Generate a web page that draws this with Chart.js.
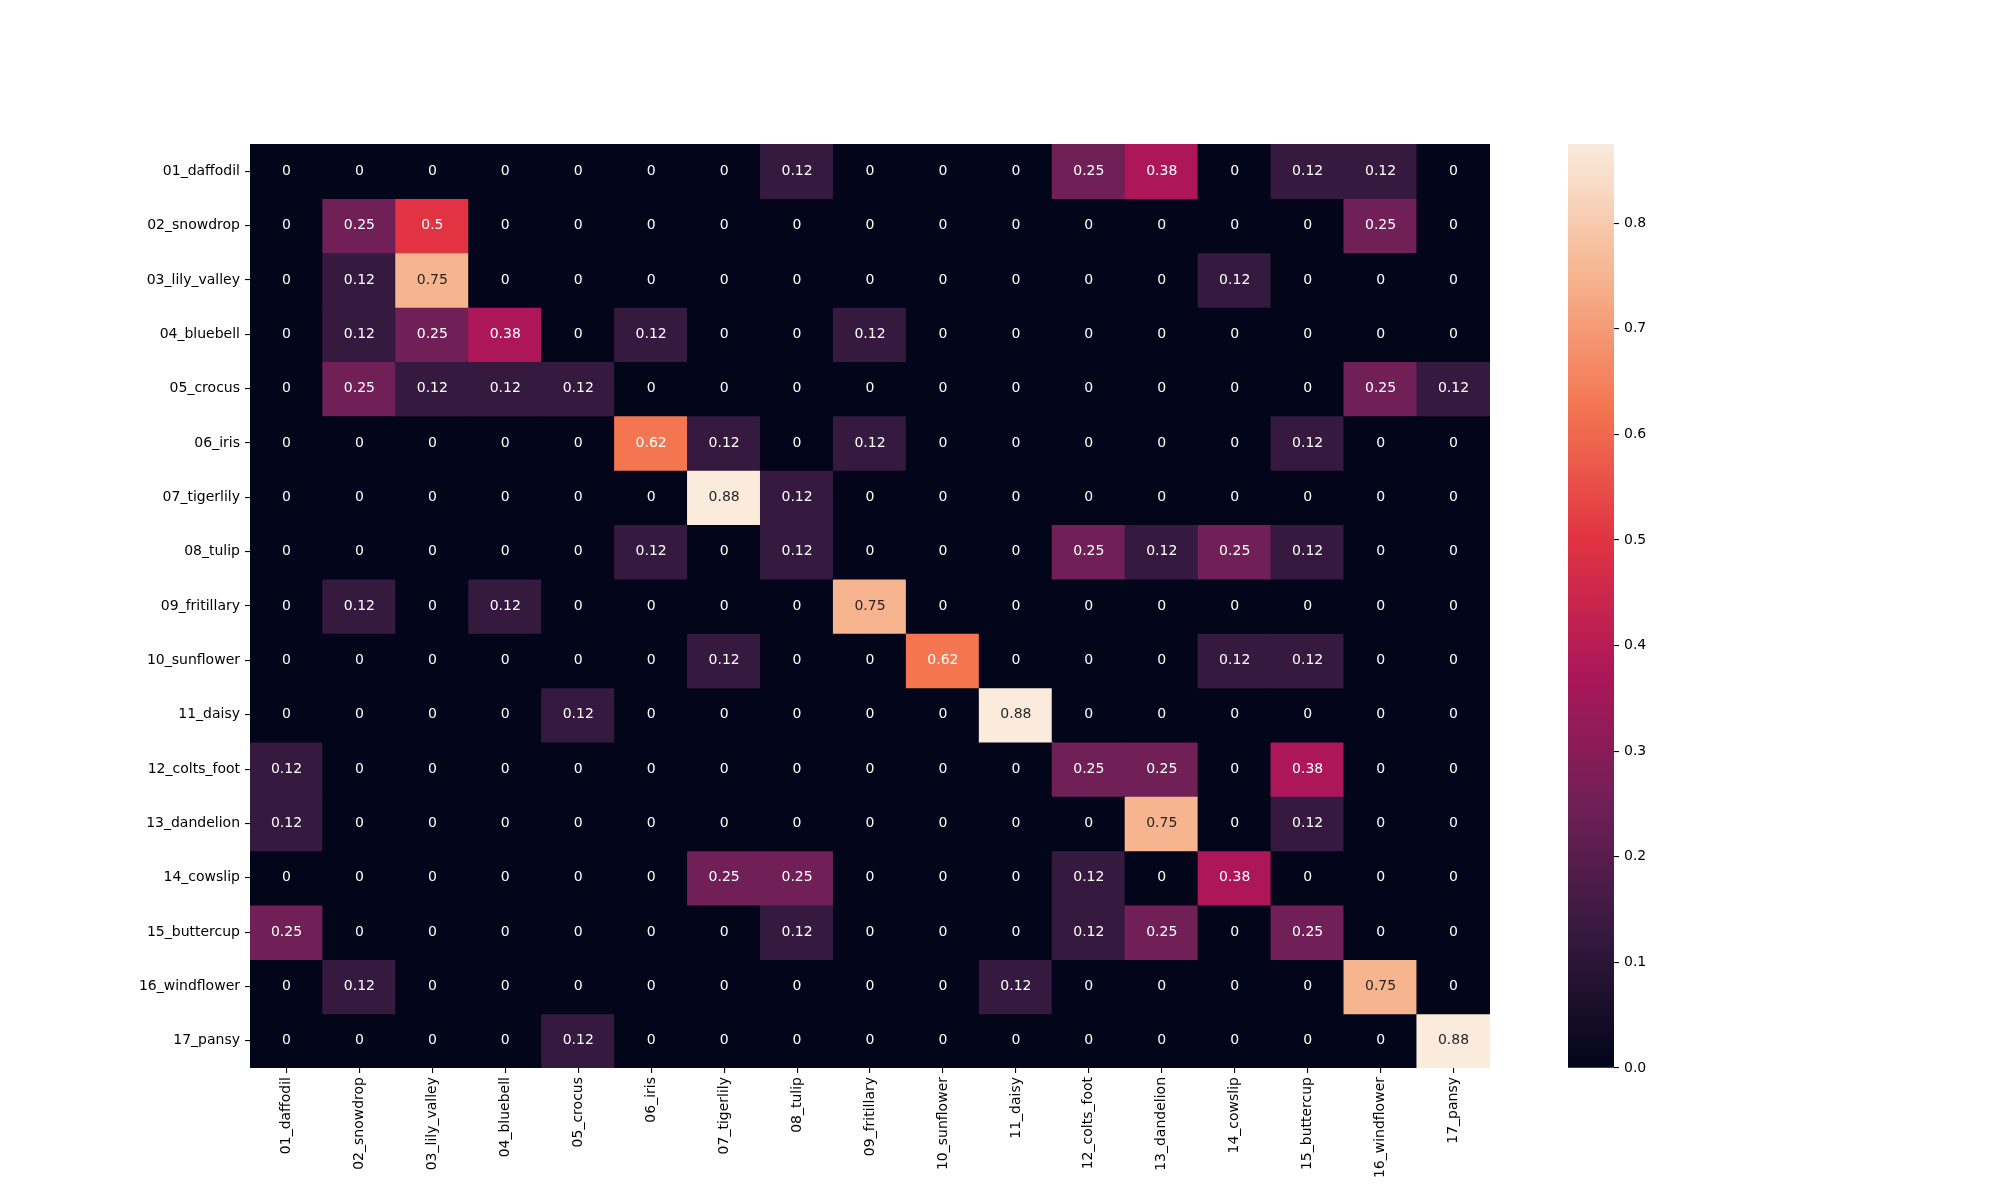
<!DOCTYPE html>
<html><head><meta charset="utf-8">
<script src="https://cdn.jsdelivr.net/npm/chart.js@4.4.0/dist/chart.umd.min.js"></script>
<style>
html,body{margin:0;padding:0;background:#fff;}
#wrap{position:relative;width:2000px;height:1200px;}
canvas{position:absolute;left:0;top:0;}
</style>
</head><body>
<div id="wrap"><canvas id="hm" width="2000" height="1200"></canvas><canvas id="cb" width="2000" height="1200"></canvas></div>
<script>
const classLabels = ["01_daffodil","02_snowdrop","03_lily_valley","04_bluebell","05_crocus","06_iris","07_tigerlily","08_tulip","09_fritillary","10_sunflower","11_daisy","12_colts_foot","13_dandelion","14_cowslip","15_buttercup","16_windflower","17_pansy"];
const row01 = [0,0,0,0,0,0,0,0.125,0,0,0,0.25,0.375,0,0.125,0.125,0];
const row02 = [0,0.25,0.5,0,0,0,0,0,0,0,0,0,0,0,0,0.25,0];
const row03 = [0,0.125,0.75,0,0,0,0,0,0,0,0,0,0,0.125,0,0,0];
const row04 = [0,0.125,0.25,0.375,0,0.125,0,0,0.125,0,0,0,0,0,0,0,0];
const row05 = [0,0.25,0.125,0.125,0.125,0,0,0,0,0,0,0,0,0,0,0.25,0.125];
const row06 = [0,0,0,0,0,0.625,0.125,0,0.125,0,0,0,0,0,0.125,0,0];
const row07 = [0,0,0,0,0,0,0.875,0.125,0,0,0,0,0,0,0,0,0];
const row08 = [0,0,0,0,0,0.125,0,0.125,0,0,0,0.25,0.125,0.25,0.125,0,0];
const row09 = [0,0.125,0,0.125,0,0,0,0,0.75,0,0,0,0,0,0,0,0];
const row10 = [0,0,0,0,0,0,0.125,0,0,0.625,0,0,0,0.125,0.125,0,0];
const row11 = [0,0,0,0,0.125,0,0,0,0,0,0.875,0,0,0,0,0,0];
const row12 = [0.125,0,0,0,0,0,0,0,0,0,0,0.25,0.25,0,0.375,0,0];
const row13 = [0.125,0,0,0,0,0,0,0,0,0,0,0,0.75,0,0.125,0,0];
const row14 = [0,0,0,0,0,0,0.25,0.25,0,0,0,0.125,0,0.375,0,0,0];
const row15 = [0.25,0,0,0,0,0,0,0.125,0,0,0,0.125,0.25,0,0.25,0,0];
const row16 = [0,0.125,0,0,0,0,0,0,0,0,0.125,0,0,0,0,0.75,0];
const row17 = [0,0,0,0,0.125,0,0,0,0,0,0,0,0,0,0,0,0.875];
const matrixRows = [row01,row02,row03,row04,row05,row06,row07,row08,row09,row10,row11,row12,row13,row14,row15,row16,row17];
const colorbarTicks = [0,0.1,0.2,0.3,0.4,0.5,0.6,0.7,0.8];

const rocketStops = [
  [0, [3,5,26]],
  [1/7, [53,25,62]],
  [2/7, [112,31,87]],
  [3/7, [173,23,89]],
  [4/7, [225,51,66]],
  [5/7, [243,118,81]],
  [6/7, [246,180,143]],
  [1, [250,235,221]]
];
function rocket(t){
  t = Math.max(0, Math.min(1, t));
  for (let k=1;k<rocketStops.length;k++){
    const [p1,c1] = rocketStops[k];
    const [p0,c0] = rocketStops[k-1];
    if (t <= p1 + 1e-9){
      const f = (t-p0)/(p1-p0);
      return c0.map((v,i)=>Math.round(v + (c1[i]-v)*f));
    }
  }
  return rocketStops[rocketStops.length-1][1];
}
function rgbStr(c){return 'rgb('+c[0]+','+c[1]+','+c[2]+')';}
function lum(c){
  const l = c.map(v=>{v/=255;return v<=0.03928? v/12.92 : Math.pow((v+0.055)/1.055,2.4);});
  return 0.2126*l[0]+0.7152*l[1]+0.0722*l[2];
}
function fmt2g(v){
  if (v === 0) return '0';
  const s = v*100;
  let f = Math.floor(s + 1e-9);
  const d = s - f;
  if (d > 0.5 + 1e-9 || (Math.abs(d-0.5) < 1e-9 && f % 2 === 1)) f += 1;
  return String(f/100);
}
const vmax = Math.max(...matrixRows.map(r=>Math.max(...r)));
const FONT = {family: "'DejaVu Sans'", size: 14};

const annotPlugin = {
  id: 'annot',
  afterDatasetsDraw(chart){
    const ctx = chart.ctx;
    ctx.save();
    ctx.font = "14px 'DejaVu Sans'";
    ctx.textAlign = 'center';
    ctx.textBaseline = 'middle';
    chart.data.datasets.forEach((ds,i)=>{
      const meta = chart.getDatasetMeta(i);
      meta.data.forEach((bar,j)=>{
        const v = matrixRows[i][j];
        const c = rocket(v/vmax);
        ctx.fillStyle = lum(c) > 0.408 ? '#262626' : '#ffffff';
        ctx.fillText(fmt2g(v), bar.x, (bar.y + bar.base)/2);
      });
    });
    ctx.restore();
  }
};

new Chart(document.getElementById('hm'), {
  type: 'bar',
  data: {
    labels: classLabels,
    datasets: matrixRows.map((row,i)=>({
      data: row.map(()=>[i, i+1]),
      backgroundColor: row.map(v=>rgbStr(rocket(v/vmax))),
      borderWidth: 0,
      barPercentage: 1,
      categoryPercentage: 1,
      grouped: false,
      inflateAmount: 0.6
    }))
  },
  options: {
    responsive: false,
    devicePixelRatio: 1,
    animation: false,
    layout: {padding: {left: 0, top: 144, right: 510, bottom: 0}},
    plugins: {legend: {display: false}, tooltip: {enabled: false}},
    scales: {
      x: {
        type: 'category',
        offset: true,
        grid: {display: true, offset: false, drawOnChartArea: false, drawTicks: true, tickLength: 5, color: '#000', lineWidth: 1.1},
        border: {display: false},
        ticks: {autoSkip: false, maxRotation: 90, minRotation: 90, color: '#000', font: FONT, padding: 4},
        afterFit(s){ s.height = 132; }
      },
      y: {
        type: 'linear',
        min: 0, max: classLabels.length,
        reverse: true,
        afterBuildTicks(s){ s.ticks = classLabels.map((_,i)=>({value: i+0.5})); },
        grid: {display: true, drawOnChartArea: false, drawTicks: true, tickLength: 5, color: '#000', lineWidth: 1.1},
        border: {display: false},
        ticks: {autoSkip: false, color: '#000', font: FONT, padding: 5,
          callback: (v)=> classLabels[Math.floor(v)]},
        afterFit(s){ s.width = 250; }
      }
    }
  },
  plugins: [annotPlugin]
});

new Chart(document.getElementById('cb'), {
  type: 'bar',
  data: {
    labels: [''],
    datasets: [{
      data: [[0, vmax]],
      borderWidth: 0,
      barPercentage: 1,
      categoryPercentage: 1,
      backgroundColor: (c)=>{
        const a = c.chart.chartArea;
        if (!a) return '#000';
        const g = c.chart.ctx.createLinearGradient(0, a.bottom, 0, a.top);
        rocketStops.forEach(([p,col])=>g.addColorStop(p, rgbStr(col)));
        return g;
      }
    }]
  },
  options: {
    responsive: false,
    devicePixelRatio: 1,
    animation: false,
    layout: {padding: {left: 1568, top: 144, right: 0, bottom: 132}},
    plugins: {legend: {display: false}, tooltip: {enabled: false}},
    scales: {
      x: {display: false},
      y: {
        position: 'right',
        min: 0, max: vmax,
        afterBuildTicks(s){ s.ticks = colorbarTicks.map(v=>({value: v})); },
        grid: {display: true, drawOnChartArea: false, drawTicks: true, tickLength: 5, color: '#000', lineWidth: 1.1},
        border: {display: false},
        ticks: {color: '#000', font: FONT, padding: 5, callback: (v)=>Number(v).toFixed(1)},
        afterFit(s){ s.width = 386; }
      }
    }
  }
});
</script>
</body></html>
